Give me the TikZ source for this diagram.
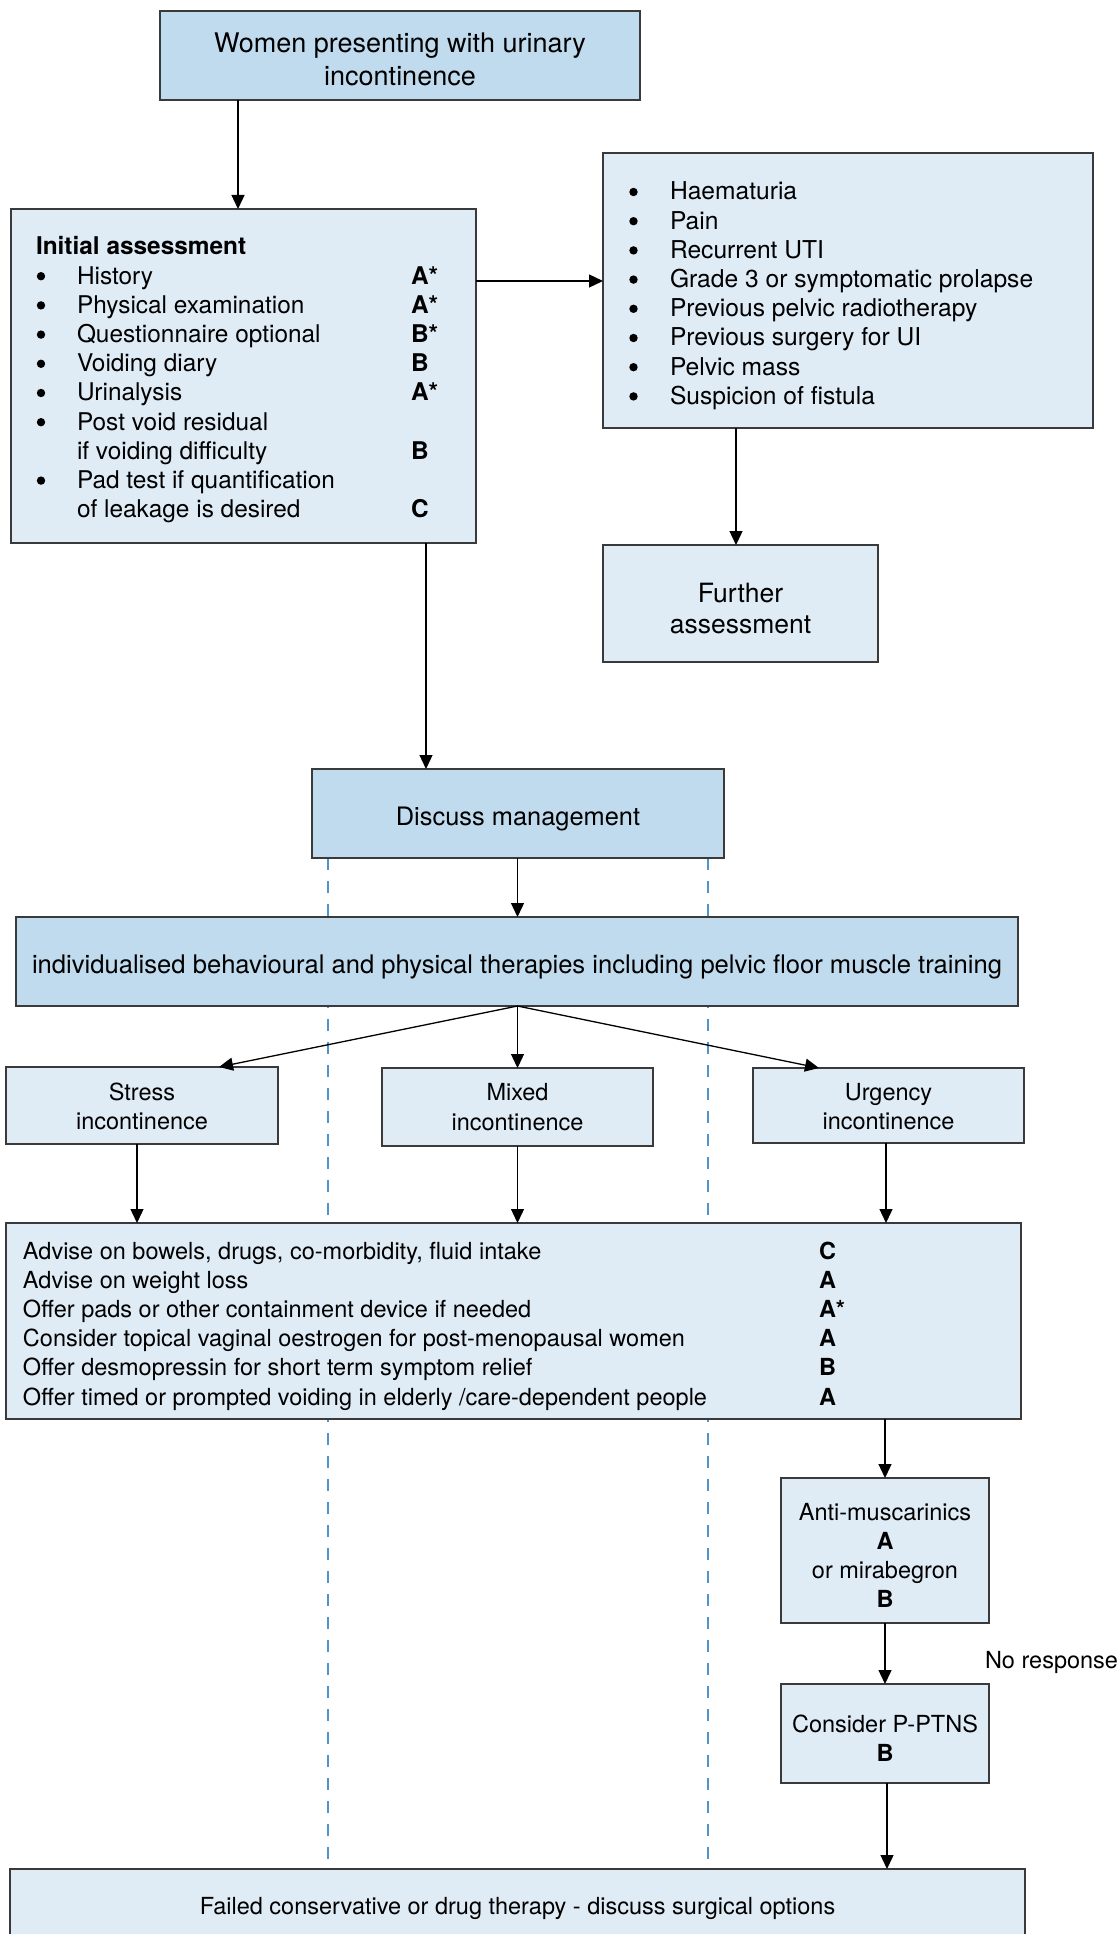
\documentclass[tikz,border=0pt]{standalone}
\usepackage{fontspec}
\setmainfont{TeX Gyre Heros}
\usetikzlibrary{arrows.meta,backgrounds}
\definecolor{fillA}{HTML}{C1DBEE}
\definecolor{fillB}{HTML}{DFEBF5}
\definecolor{bord}{HTML}{3A3A3A}
\definecolor{dashblue}{HTML}{4F94CD}
\begin{document}
\begin{tikzpicture}[x=1pt,y=-1pt,
  box/.style={draw=bord, line width=1.2pt, inner sep=0pt, outer sep=0pt},
  boxA/.style={box, fill=fillA},
  boxB/.style={box, fill=fillB},
  arr/.style={-{Triangle[length=14pt,width=13pt]}, line width=1.3pt, draw=black},
  txt/.style={font=\fontsize{23.5}{29.2}\selectfont, inner sep=0pt, outer sep=0pt, align=center},
  guide/.style={draw=dashblue, line width=2pt, dash pattern=on 12pt off 11pt},
]
\useasboundingbox (0,0) rectangle (1119,1934);

% boxes
\node[boxA, minimum width=480pt, minimum height=89pt] (top) at (400,55.5) {};
\node[boxB, minimum width=465pt, minimum height=334pt] (init) at (243.5,376) {};
\node[boxB, minimum width=490pt, minimum height=275pt] (right) at (848,290.5) {};
\node[boxB, minimum width=275pt, minimum height=117pt] (further) at (740.5,603.5) {};
\node[boxA, minimum width=412pt, minimum height=89pt] (discuss) at (518,813.5) {};
\node[boxA, minimum width=1002pt, minimum height=89pt] (therapy) at (517,961.5) {};
\node[boxB, minimum width=272pt, minimum height=77pt] (stress) at (142,1105.5) {};
\node[boxB, minimum width=271pt, minimum height=78pt] (mixed) at (517.5,1107) {};
\node[boxB, minimum width=271pt, minimum height=75pt] (urgency) at (888.5,1105.5) {};
\node[boxB, minimum width=1015pt, minimum height=196pt] (advise) at (513.5,1321) {};
\node[boxB, minimum width=208pt, minimum height=145pt] (anti) at (885,1550.5) {};
\node[boxB, minimum width=208pt, minimum height=99pt] (ptns) at (885,1733.5) {};
\node[boxB, minimum width=1015pt, minimum height=121pt] (failed) at (517.5,1929.5) {};

% box texts
\node[txt, font=\fontsize{27}{32.5}\selectfont] (topT) at (400,59.5)
  {Women presenting with urinary\\incontinence};
\node[txt, font=\fontsize{26.5}{31}\selectfont] (furtherT) at (740.5,608.5) {Further\\assessment};
\node[txt, font=\fontsize{25.4}{30}\selectfont] (discussT) at (518,819.5) {Discuss management};
\node[txt, font=\fontsize{25.6}{30}\selectfont] (therapyT) at (517,966.5)
  {individualised behavioural and physical therapies including pelvic floor muscle training};
\node[txt] (stressT) at (142,1106.5) {Stress\\incontinence};
\node[txt] (mixedT) at (517.5,1107) {Mixed\\incontinence};
\node[txt] (urgencyT) at (888.5,1106.5) {Urgency\\incontinence};
\node[txt] (antiT) at (885,1555.5) {Anti-muscarinics\\\textbf{A}\\or mirabegron\\\textbf{B}};
\node[txt] (ptnsT) at (885,1738.5) {Consider P-PTNS\\\textbf{B}};

\node[txt, anchor=base west, font=\fontsize{24.4}{29.2}\selectfont] (initT) at (36,255) {%
\begin{tabular}[t]{@{}p{41pt}@{}p{334pt}@{}l@{}}
\multicolumn{3}{@{}l@{}}{\textbf{Initial assessment}}\\
 & History & \textbf{A*}\\
 & Physical examination & \textbf{A*}\\
 & Questionnaire optional & \textbf{B*}\\
 & Voiding diary & \textbf{B}\\
 & Urinalysis & \textbf{A*}\\
 & Post void residual & \\
 & if voiding difficulty & \textbf{B}\\
 & Pad test if quantification & \\
 & of leakage is desired & \textbf{C}
\end{tabular}};
\foreach \k in {1,2,3,4,5,6,8}
  \fill (41,255+29.2*\k-8) circle (4.2pt);

\node[txt, anchor=base west, font=\fontsize{24.6}{29.2}\selectfont] (rightT) at (670,200) {%
\begin{tabular}[t]{@{}l@{}}
Haematuria\\
Pain\\
Recurrent UTI\\
Grade 3 or symptomatic prolapse\\
Previous pelvic radiotherapy\\
Previous surgery for UI\\
Pelvic mass\\
Suspicion of fistula
\end{tabular}};
\foreach \k in {0,...,7}
  \fill (633.5,200+29.2*\k-8) circle (4.2pt);

\node[txt, anchor=base west] (adviseT) at (23,1259) {%
\begin{tabular}[t]{@{}p{796pt}@{}l@{}}
Advise on bowels, drugs, co-morbidity, fluid intake & \textbf{C}\\
Advise on weight loss & \textbf{A}\\
Offer pads or other containment device if needed & \textbf{A*}\\
Consider topical vaginal oestrogen for post-menopausal women & \textbf{A}\\
Offer desmopressin for short term symptom relief & \textbf{B}\\
Offer timed or prompted voiding in elderly /care-dependent people & \textbf{A}
\end{tabular}};

\node[txt] (failedT) at (517.5,1908) {Failed conservative or drug therapy - discuss surgical options};
\node[txt, anchor=base west] (noresp) at (985,1668) {No response};

% dashed guides behind
\begin{scope}[on background layer]
\draw[guide] (discuss.south -| 328,0) -- (failed.north -| 328,0);
\draw[guide] (discuss.south -| 708,0) -- (failed.north -| 708,0);
\end{scope}

% connectors
\draw[arr] (top.south -| 238,0) -- (init.north -| 238,0);
\draw[arr] (init.east |- 0,281) -- (right.west |- 0,281);
\draw[arr] (right.south -| 736,0) -- (further.north -| 736,0);
\draw[arr] (init.south -| 426,0) -- (discuss.north -| 426,0);
\draw[arr] (discuss.south -| 517.5,0) -- (therapy.north -| 517.5,0);
\coordinate (fan) at (therapy.south -| 517.5,0);
\draw[arr] (fan) -- (stress.north -| 219,0);
\draw[arr] (fan) -- (mixed.north -| 517.5,0);
\draw[arr] (fan) -- (urgency.north -| 819,0);
\draw[arr] (stress.south -| 137,0) -- (advise.north -| 137,0);
\draw[arr] (mixed.south -| 517.5,0) -- (advise.north -| 517.5,0);
\draw[arr] (urgency.south -| 886,0) -- (advise.north -| 886,0);
\draw[arr] (advise.south -| anti.north) -- (anti.north);
\draw[arr] (anti.south) -- (ptns.north);
\draw[arr] (ptns.south -| 887,0) -- (failed.north -| 887,0);
\end{tikzpicture}
\end{document}
